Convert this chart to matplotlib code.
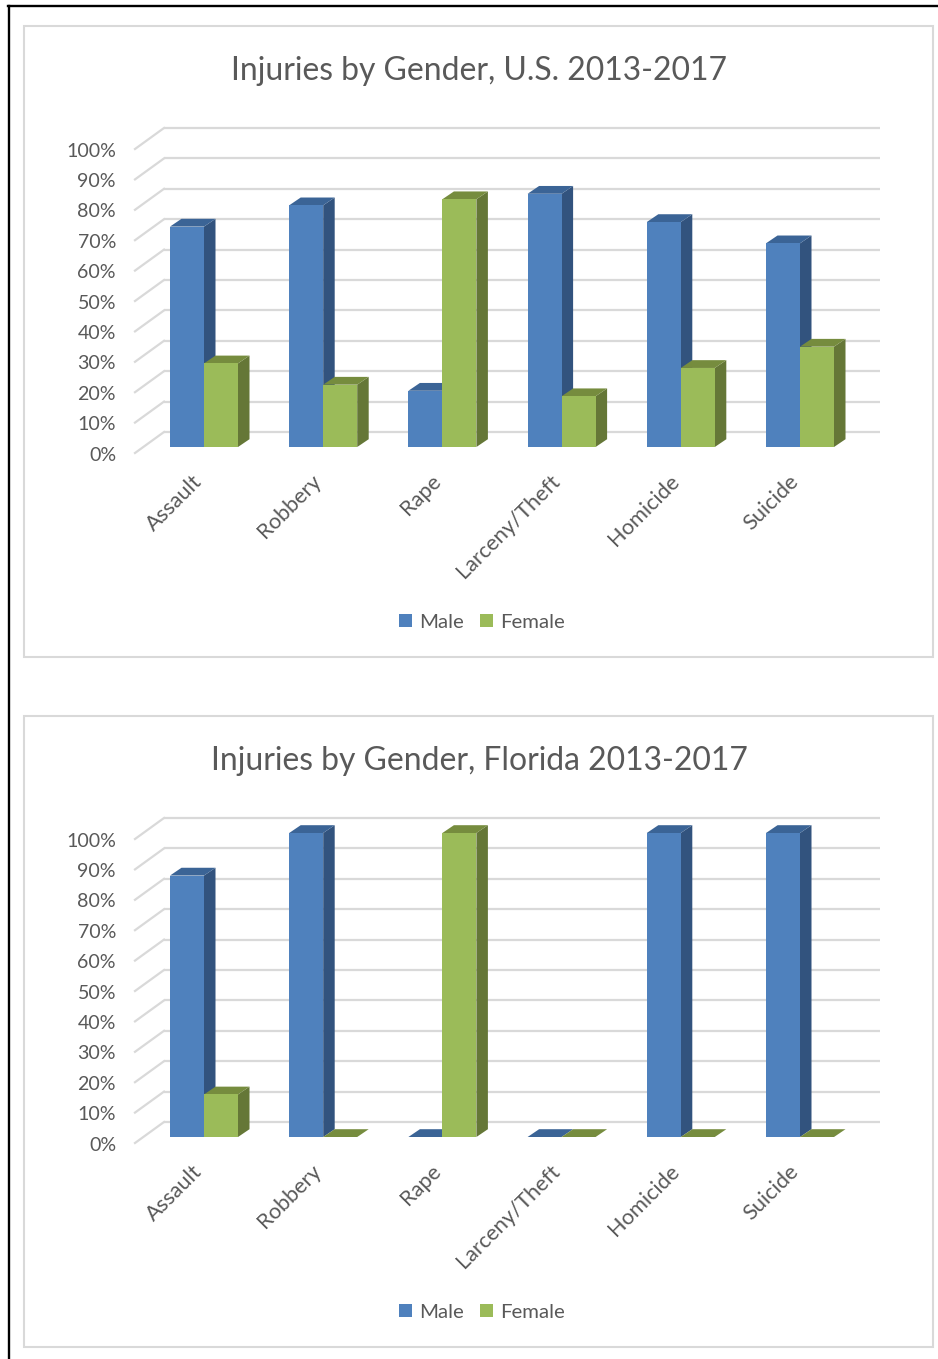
import matplotlib
matplotlib.use('Agg')
import matplotlib.pyplot as plt
from matplotlib.patches import Polygon, Rectangle, Patch
from matplotlib.lines import Line2D

# ---------------- data ----------------
categories = ['Assault', 'Robbery', 'Rape', 'Larceny/Theft', 'Homicide', 'Suicide']
series_names = ['Male', 'Female']
us_male = [72.5, 79.5, 18.5, 83.3, 74.0, 67.0]
us_female = [27.5, 20.5, 81.5, 16.7, 26.0, 33.0]
fl_male = [86.0, 100.0, 0.0, 0.0, 100.0, 100.0]
fl_female = [14.0, 0.0, 100.0, 0.0, 0.0, 0.0]
y_ticks = [0, 10, 20, 30, 40, 50, 60, 70, 80, 90, 100]
y_tick_labels = [f'{v}%' for v in y_ticks]
titles = ['Injuries by Gender, U.S. 2013-2017', 'Injuries by Gender, Florida 2013-2017']

# ---------------- style ----------------
FAM = ['Lato', 'DejaVu Sans']
TXT = '#595959'
GRID = '#D9D9D9'
male_cols = dict(front='#4F81BD', side='#32537E', top='#3B6496')
female_cols = dict(front='#9BBB59', side='#657737', top='#768C3E')

W, H, DPI = 938, 1359, 100
fig = plt.figure(figsize=(W / DPI, H / DPI), dpi=DPI)
fig.patch.set_facecolor('white')
renderer = fig.canvas.get_renderer()


def fit_size(text, target_px, base=20.0):
    t = fig.text(0, 0, text, fontsize=base, family=FAM)
    w = t.get_window_extent(renderer).width
    t.remove()
    return base * target_px / w


title_fs = fit_size(titles[0], 496)
tick_fs = fit_size('100%', 50)
cat_fs = fit_size('Larceny/Theft', 137)
leg_fs = fit_size('Female', 65)

# pixel geometry of one chart (top chart; bottom is shifted by 690 px)
X0, PITCH = 204.0, 119.2        # group centre, group pitch (px)
BASE, PPU = 447.0, 3.04         # bar baseline (px), px per percent
AX_L, AX_R, AX_T, AX_B = 120, 900, 110, 470

def xd(px):
    return (px - X0) / PITCH

def yd(py):
    return (BASE - py) / PPU

BAR_W = xd(X0 + 34)
DX, DY = xd(X0 + 11.5), 7.8 / PPU
WALL_FX, WALL_BX, WALL_RX = xd(135), xd(164), xd(880)
FRONT0, BACK0 = yd(453), yd(432)


def face_polys(ax, x_left, h, cols, z):
    x_right = x_left + BAR_W
    side = [(x_right, 0), (x_right + DX, DY), (x_right + DX, h + DY), (x_right, h)]
    top = [(x_left, h), (x_right, h), (x_right + DX, h + DY), (x_left + DX, h + DY)]
    ax.add_patch(Polygon(side, closed=True, facecolor=cols['side'], edgecolor='none', zorder=z))
    ax.add_patch(Polygon(top, closed=True, facecolor=cols['top'], edgecolor='none', zorder=z))


def draw_chart(shift, title, male, female):
    left = AX_L / W
    bottom = 1 - (AX_B + shift) / H
    ax = fig.add_axes([left, bottom, (AX_R - AX_L) / W, (AX_B - AX_T) / H])
    ax.set_xlim(xd(AX_L), xd(AX_R))
    ax.set_ylim(yd(AX_B), yd(AX_T))
    ax.axis('off')

    # walls / gridlines
    for v, lab in zip(y_ticks, y_tick_labels):
        ax.plot([WALL_BX, WALL_RX], [v + BACK0, v + BACK0], color=GRID, lw=1.6,
                zorder=1, solid_capstyle='butt')
        ax.plot([WALL_FX, WALL_BX], [v + FRONT0, v + BACK0], color=GRID, lw=1.6, zorder=1)
        ax.text(xd(116), v + FRONT0 - 0.7, lab, ha='right', va='center', fontsize=tick_fs,
                color=TXT, family=FAM, clip_on=False)

    xs = list(range(len(categories)))
    # side / top faces of male bars, then male fronts
    for i, h in zip(xs, male):
        face_polys(ax, i - BAR_W, h, male_cols, 2)
    ax.bar([i - BAR_W / 2 for i in xs], male, width=BAR_W, color=male_cols['front'],
           edgecolor='none', zorder=3)
    for i, h in zip(xs, female):
        face_polys(ax, i, h, female_cols, 4)
    ax.bar([i + BAR_W / 2 for i in xs], female, width=BAR_W, color=female_cols['front'],
           edgecolor='none', zorder=5)

    # category labels
    for i, c in zip(xs, categories):
        ax.text(i - 0.04, -10.2, c, rotation=45, rotation_mode='anchor', ha='right',
                va='center', fontsize=cat_fs, color=TXT, family=FAM, clip_on=False)

    # title
    fig.text(479 / W, 1 - (71 + shift) / H, title, ha='center', va='center',
             fontsize=title_fs, color=TXT, family=FAM)

    # legend
    handles = [Patch(facecolor=male_cols['front'], edgecolor='none'),
               Patch(facecolor=female_cols['front'], edgecolor='none')]
    fig.legend(handles, series_names, loc='center',
               bbox_to_anchor=(482 / W, 1 - (622 + shift) / H), ncol=2, frameon=False,
               handlelength=0.65, handleheight=0.65,
               handletextpad=0.35, columnspacing=0.8, labelcolor=TXT,
               prop={'family': FAM, 'size': leg_fs})

    # chart box
    fig.add_artist(Rectangle((24 / W, 1 - (657 + shift) / H), (933 - 24) / W,
                             (657 - 26) / H, transform=fig.transFigure, fill=False,
                             edgecolor=GRID, lw=1.5))


draw_chart(0, titles[0], us_male, us_female)
draw_chart(690, titles[1], fl_male, fl_female)

# outer black frame (top and left)
fig.add_artist(Line2D([8 / W, 1], [1 - 6 / H, 1 - 6 / H], transform=fig.transFigure,
                      color='black', lw=1.7))
fig.add_artist(Line2D([9 / W, 9 / W], [0, 1 - 6 / H], transform=fig.transFigure,
                      color='black', lw=1.7))

fig.savefig('out.png', dpi=DPI)
